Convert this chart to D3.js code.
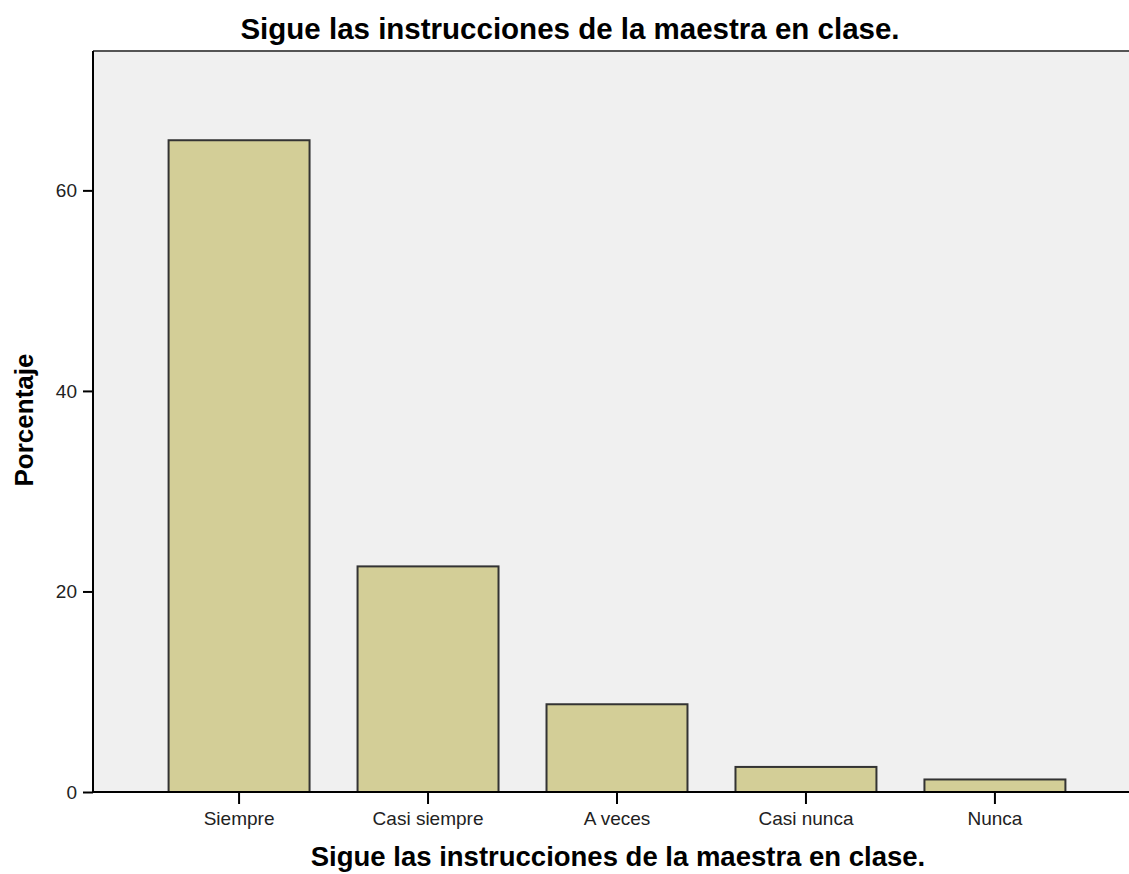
<!DOCTYPE html>
<html>
<head>
<meta charset="utf-8">
<script src="https://cdn.jsdelivr.net/npm/d3@7"></script>
<style>
  body { margin: 0; background: white; }
  text { font-family: "Liberation Sans", Arial, sans-serif; }
</style>
</head>
<body>
<div id="chart"></div>
<script>
var categories = ["Siempre", "Casi siempre", "A veces", "Casi nunca", "Nunca"];
var percentages = [65.0, 22.5, 8.75, 2.5, 1.25];
var yTicks = [0, 20, 40, 60];
var chartTitle = "Sigue las instrucciones de la maestra en clase.";
var xTitle = "Sigue las instrucciones de la maestra en clase.";
var yTitle = "Porcentaje";

var width = 1129;
var height = 874;
var plotLeft = 93, plotTop = 51, plotBottom = 792, plotRight = 1141;

var svg = d3.select("#chart")
    .append("svg")
    .attr("width", width)
    .attr("height", height)

// plot background
svg.append("rect")
    .attr("x", plotLeft)
    .attr("y", plotTop)
    .attr("width", plotRight - plotLeft)
    .attr("height", plotBottom - plotTop)
    .attr("fill", "#f0f0f0")

svg.append("line")
    .attr("x1", plotLeft)
    .attr("x2", width)
    .attr("y1", plotTop)
    .attr("y2", plotTop)
    .style("stroke", "#555")
    .style("stroke-width", 2)

var x = d3.scaleBand()
    .domain(categories)
    .range([plotLeft, plotRight])
    .paddingInner(0.254)
    .paddingOuter(0.4)

var y = d3.scaleLinear()
    .domain([0, 73.9])
    .range([plotBottom, plotTop])

svg.selectAll(".bar")
    .data(categories)
    .enter()
    .append("rect")
    .attr("class", "bar")
    .attr("x", d => x(d))
    .attr("y", (d, i) => y(percentages[i]))
    .attr("width", x.bandwidth())
    .attr("height", (d, i) => y(0) - y(percentages[i]))
    .attr("fill", "#d3ce97")
    .style("stroke", "#333")
    .style("stroke-width", 2)

var yAxis = svg.append("g")
    .attr("transform", "translate(" + plotLeft + ",0)")
    .call(d3.axisLeft(y).tickValues(yTicks).tickSize(10).tickPadding(6).tickFormat(d3.format("d")))

yAxis.select(".domain").attr("d", "M0," + plotTop + "V" + plotBottom).style("stroke-width", 2)
yAxis.selectAll(".tick line").style("stroke-width", 2)
yAxis.selectAll("text")
    .style("font-size", "19px")
    .attr("fill", "#222")

var xAxis = svg.append("g")
    .attr("transform", "translate(0," + plotBottom + ")")
    .call(d3.axisBottom(x).tickSize(12).tickPadding(8))

xAxis.select(".domain").attr("d", "M" + plotLeft + ",0H" + width).style("stroke-width", 2)
xAxis.selectAll(".tick line").style("stroke-width", 2)
xAxis.selectAll("text")
    .style("font-size", "19px")
    .attr("fill", "#222")

svg.append("text")
    .attr("x", 570)
    .attr("y", 39)
    .text(chartTitle)
    .style("text-anchor", "middle")
    .style("font-size", "29.5px")
    .style("font-weight", "bold")

svg.append("text")
    .attr("x", 618)
    .attr("y", 866)
    .text(xTitle)
    .style("text-anchor", "middle")
    .style("font-size", "27.5px")
    .style("font-weight", "bold")

svg.append("text")
    .attr("transform", "translate(33,420) rotate(-90)")
    .text(yTitle)
    .style("text-anchor", "middle")
    .style("font-size", "26px")
    .style("font-weight", "bold")
</script>
</body>
</html>
